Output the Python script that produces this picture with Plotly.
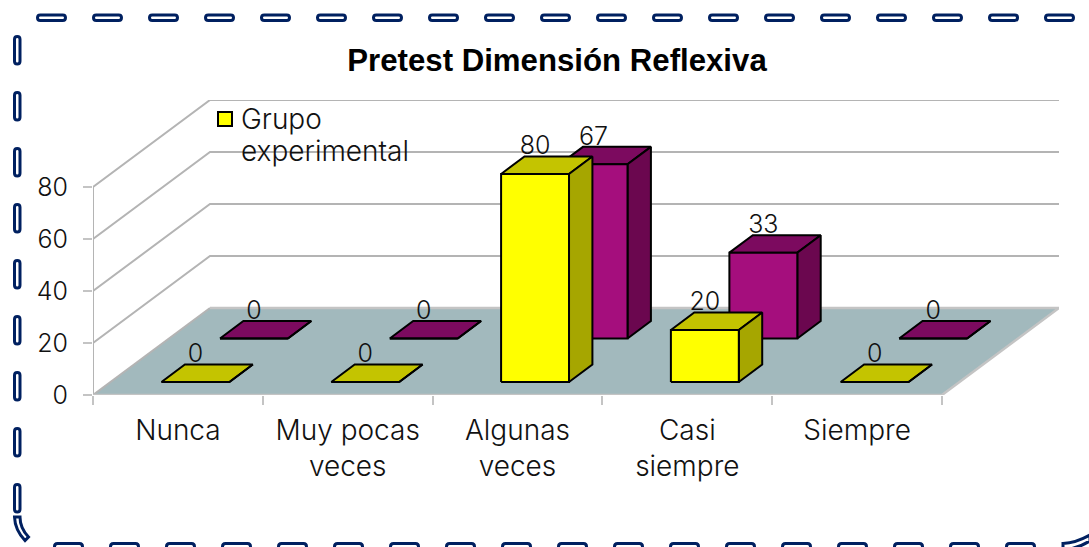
"""Pretest Dimension Reflexiva: oblique 3D column chart drawn on a 2D plotly axis."""
import plotly.graph_objects as go

categories = ["Nunca", "Muy pocas<br>veces", "Algunas<br>veces", "Casi<br>siempre", "Siempre"]
grupo_experimental = [0, 0, 80, 20, 0]
grupo_control = [0, 0, 67, 33, 0]
value_ticks = [0, 20, 40, 60, 80]
legend_lines = ["Grupo", "experimental"]

W, H = 1089, 547
LEFT, BOTTOM, TOP, RIGHT = 93, 395, 100, 1059
CAT_PX = 169.8
VAL_PX = 2.6
DEPTH_X = 117 / CAT_PX
DEPTH_Y = 87 / VAL_PX
GAP = 0.3
GRID = "#b4b4b4"
INK = "#111111"
DIGIT_FONT = dict(family="Inter", size=25, weight=300, color=INK)
WORD_FONT = dict(family="Inter", size=28, weight=300, color=INK)


def project(cat, val, depth):
    return cat + depth * DEPTH_X, val + depth * DEPTH_Y


def quad(points):
    xs, ys = [], []
    for c, v, d in points:
        x, y = project(c, v, d)
        xs.append(x)
        ys.append(y)
    return xs + [xs[0], None], ys + [ys[0], None]


def faces(values, d0, d1):
    top, side, front = ([], []), ([], []), ([], [])
    for i, v in enumerate(values):
        a, b = i + GAP, i + 1 - GAP
        for store, pts in (
            (top, [(a, v, d0), (b, v, d0), (b, v, d1), (a, v, d1)]),
            (side, [(b, 0, d0), (b, 0, d1), (b, v, d1), (b, v, d0)]),
            (front, [(a, 0, d0), (b, 0, d0), (b, v, d0), (a, v, d0)]),
        ):
            xs, ys = quad(pts)
            store[0].extend(xs)
            store[1].extend(ys)
    return top, side, front


def add_series(fig, name, values, d0, d1, colors):
    for (xs, ys), color in zip(faces(values, d0, d1), colors):
        fig.add_trace(go.Scatter(x=xs, y=ys, mode="lines", fill="toself", fillcolor=color,
                                 line=dict(color="black", width=2), name=name, showlegend=False))
    lx, ly = [], []
    for i, v in enumerate(values):
        x, y = project(i + 0.5, v, d0)
        lx.append(x)
        ly.append(y + 10)
    fig.add_trace(go.Scatter(x=lx, y=ly, mode="text", text=[str(v) for v in values],
                             textposition="middle center", cliponaxis=False, showlegend=False,
                             textfont=DIGIT_FONT))


def px(x, y):
    # page pixels to paper fractions of the plot area
    return (x - LEFT) / (RIGHT - LEFT), (BOTTOM - y) / (BOTTOM - TOP)


def capsule(x0, y0, x1, y1):
    r = min(x1 - x0, y1 - y0) / 2
    pts = [("M", x0 + r, y0), ("L", x1 - r, y0), ("Q", x1, y0, x1, y0 + r), ("L", x1, y1 - r),
           ("Q", x1, y1, x1 - r, y1), ("L", x0 + r, y1), ("Q", x0, y1, x0, y1 - r),
           ("L", x0, y0 + r), ("Q", x0, y0, x0 + r, y0)]
    return path(pts) + " Z"


def path(cmds):
    out = []
    for c in cmds:
        coords = []
        for k in range(1, len(c), 2):
            fx, fy = px(c[k], c[k + 1])
            coords.append(f"{fx:.5f},{fy:.5f}")
        out.append(c[0] + " ".join(coords))
    return " ".join(out)


def frame_path():
    parts = []
    for i in range(19):
        parts.append(capsule(37.5 + 56 * i, 15, 65.5 + 56 * i, 20.5))
    for i in range(9):
        parts.append(capsule(14.5, 36.5 + 56 * i, 20, 64 + 56 * i))
    for i in range(18):
        parts.append(capsule(54.5 + 56 * i, 543.5, 82.5 + 56 * i, 549.5))
    parts.append(path([("M", 14.5, 517), ("Q", 15, 530, 25, 540.5), ("L", 28.5, 537),
                       ("Q", 20, 528, 20, 517)]) + " Z")
    parts.append(path([("M", 1063, 543.5), ("Q", 1076, 543, 1090, 535), ("L", 1090, 541),
                       ("Q", 1076, 549.5, 1063, 549.5)]) + " Z")
    return " ".join(parts)


fig = go.Figure()

# floor
fx, fy = quad([(0, 0, 0), (5, 0, 0), (5, 0, 1), (0, 0, 1)])
fig.add_trace(go.Scatter(x=fx, y=fy, mode="lines", fill="toself", fillcolor="#a2b9bd",
                         line=dict(color="rgba(0,0,0,0)", width=0), showlegend=False))

# walls: gridlines along the back and the left side, plus the axis edges
for v in value_ticks:
    wx, wy = zip(*[project(0, v, 0), project(0, v, 1), project(5, v, 1)])
    if v == 0:
        wx, wy = zip(*[project(0, 0, 0), project(0, 0, 1)])
    fig.add_trace(go.Scatter(x=wx, y=wy, mode="lines", line=dict(color=GRID, width=2),
                             cliponaxis=False, showlegend=False))
ex, ey = zip(*[project(0, 0, 0), project(0, value_ticks[-1], 0)])
fig.add_trace(go.Scatter(x=ex, y=ey, mode="lines", line=dict(color=GRID, width=2),
                         cliponaxis=False, showlegend=False))
ex, ey = zip(*[project(0, 0, 0), project(5, 0, 0), project(5, 0, 1), project(0, 0, 1)])
fig.add_trace(go.Scatter(x=ex, y=ey, mode="lines", line=dict(color="#c4c4c4", width=2.5),
                         cliponaxis=False, showlegend=False))

add_series(fig, "Grupo control", grupo_control, 0.65, 0.85, ["#7c0a5f", "#6b074f", "#a50e7d"])
add_series(fig, "Grupo experimental", grupo_experimental, 0.15, 0.35, ["#c4c400", "#a6a600", "#ffff00"])

sw0 = px(218, 112)
sw1 = px(232, 126)
fig.update_layout(
    width=W, height=H,
    margin=dict(l=LEFT, r=W - RIGHT, t=TOP, b=H - BOTTOM, pad=0),
    paper_bgcolor="white", plot_bgcolor="rgba(0,0,0,0)",
    showlegend=False,
    title=dict(text="<b>Pretest Dimensión Reflexiva</b>", x=557 / W, xanchor="center",
               y=1 - 60 / H, yanchor="middle",
               font=dict(family="Liberation Sans", size=31.2, color="black")),
    xaxis=dict(range=[0, (RIGHT - LEFT) / CAT_PX], showgrid=False, zeroline=False, showline=False,
               tickmode="array", tickvals=[i + 0.5 for i in range(5)], ticktext=categories,
               ticks="", ticklabelstandoff=16, tickfont=WORD_FONT,
               minor=dict(tickmode="array", tickvals=list(range(6)), ticks="outside",
                          ticklen=9, tickwidth=2, tickcolor="#c4c4c4")),
    yaxis=dict(range=[0, (BOTTOM - TOP) / VAL_PX], showgrid=False, zeroline=False, showline=False,
               tickmode="array", tickvals=value_ticks, ticks="outside", ticklen=9, tickwidth=2,
               tickcolor="#c4c4c4", ticklabelstandoff=10, tickfont=DIGIT_FONT),
    shapes=[
        dict(type="path", xref="paper", yref="paper", path=frame_path(), fillcolor="white",
             line=dict(color="#002060", width=3), layer="above"),
        dict(type="rect", xref="paper", yref="paper", x0=sw0[0], y0=sw0[1], x1=sw1[0], y1=sw1[1],
             fillcolor="#ffff00", line=dict(color="black", width=2), layer="above"),
    ],
    annotations=[
        dict(text=line, xref="paper", yref="paper", x=px(238.5, 0)[0], y=px(0, 119 + 32 * i)[1],
             xanchor="left", yanchor="middle", align="left", showarrow=False, font=WORD_FONT)
        for i, line in enumerate(legend_lines)
    ],
)

fig.write_html("out.html", config=dict(displayModeBar=False),
               post_script="document.body.style.margin='0';")
